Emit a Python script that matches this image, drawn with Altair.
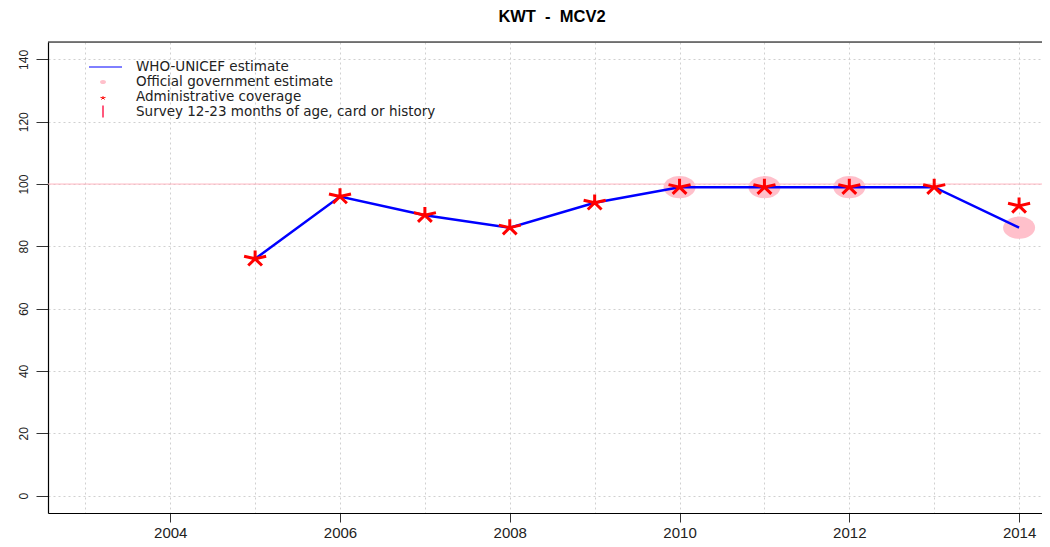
import altair as alt
import pandas as pd

# ---- data ----
years = [2005, 2006, 2007, 2008, 2009, 2010, 2011, 2012, 2013, 2014]
wuenic = [76, 96, 90, 86, 94, 99, 99, 99, 99, 86]
admin = [76, 96, 90, 86, 94, 99, 99, 99, 99, 93]
official_years = [2010, 2011, 2012, 2014]
official = [99, 99, 99, 86]
target_line = [100]
x_grid = list(range(2003, 2015))
y_grid = list(range(0, 141, 10))
title_text = ["KWT\u00a0\u00a0-\u00a0\u00a0MCV2"]
legend_labels = [
    "WHO-UNICEF estimate",
    "Official government estimate",
    "Administrative coverage",
    "Survey 12-23 months of age, card or history",
]

df_w = pd.DataFrame({"year": years, "value": wuenic})
df_a = pd.DataFrame({"year": years, "value": admin})
df_o = pd.DataFrame({"year": official_years, "value": official})
df_t = pd.DataFrame({"value": target_line})

FONT = "Liberation Sans"
STAR = "M0,0L0,-1M0,0L1.33,-0.31M0,0L-1.33,-0.31M0,0L0.83,0.81M0,0L-0.83,0.81"
ELLIPSE = "M-1,0A1,0.69,0,1,0,1,0A1,0.69,0,1,0,-1,0Z"

W, H = 994, 471
xscale = alt.Scale(domain=[2002.56, 2014.27], nice=False, zero=False)
yscale = alt.Scale(domain=[-5.6, 145.6], nice=False, zero=False)

x_axis = alt.Axis(
    values=x_grid, title=None, domain=True, domainColor="#000000", domainWidth=1.2,
    grid=True, gridColor="#d0d0d0", gridDash=[2, 3], gridWidth=1,
    tickSize=9, tickColor="#333333",
    tickOpacity={"condition": {"test": "datum.value % 2 == 0", "value": 1}, "value": 0},
    labelExpr="datum.value % 2 == 0 ? format(datum.value, 'd') : ''",
    labelFont=FONT, labelFontSize=15, labelColor="#222222", labelPadding=3,
    labelBaseline="top",
)
y_axis = alt.Axis(
    values=y_grid, title=None, domain=True, domainColor="#000000", domainWidth=1.2,
    grid=True, gridColor="#d0d0d0", gridDash=[2, 3], gridWidth=1,
    tickSize=12, tickColor="#333333",
    tickOpacity={"condition": {"test": "datum.value % 20 == 0", "value": 1}, "value": 0},
    labelExpr="datum.value % 20 == 0 ? format(datum.value, 'd') : ''",
    labelFont=FONT, labelFontSize=12, labelColor="#222222", labelPadding=6,
    labelAngle=270, labelAlign="center", labelBaseline="bottom",
)

axes_holder = alt.Chart(df_w).mark_point(opacity=0).encode(
    x=alt.X("year:Q", scale=xscale, axis=x_axis),
    y=alt.Y("value:Q", scale=yscale, axis=y_axis),
)
ref = alt.Chart(df_t).mark_rule(color="#ffb6c1", strokeWidth=1).encode(
    y=alt.Y("value:Q", scale=yscale),
)
off = alt.Chart(df_o).mark_point(shape=ELLIPSE, filled=True, color="#ffc0cb", size=1024, opacity=1).encode(
    x=alt.X("year:Q", scale=xscale), y=alt.Y("value:Q", scale=yscale)
)
line = alt.Chart(df_w).mark_line(color="#0000ff", strokeWidth=2.5).encode(
    x=alt.X("year:Q", scale=xscale), y=alt.Y("value:Q", scale=yscale)
)
stars = alt.Chart(df_a).mark_point(shape=STAR, filled=False, color="#ff0000", size=275,
                                   strokeWidth=3, opacity=1).encode(
    x=alt.X("year:Q", scale=xscale), y=alt.Y("value:Q", scale=yscale)
)

one = pd.DataFrame({"k": [0]})
# top border of the plot frame
top_border = alt.Chart(one).mark_rule(color="#000000", strokeWidth=1.2).encode(
    x=alt.value(0), x2=alt.value(W), y=alt.value(0))

# title as text
title = alt.Chart(pd.DataFrame({"t": title_text})).mark_text(
    font=FONT, fontSize=16.5, fontWeight="bold", color="#000000", align="center", baseline="middle"
).encode(x=alt.value(504), y=alt.value(-25), text="t:N")

# ---- legend (inside the plot, like R's legend without box) ----
LFONT = "DejaVu Sans"
row_y = [25, 40, 55, 69.5]
leg = []
leg.append(alt.Chart(one).mark_rule(color="#0000ff", strokeWidth=1).encode(
    x=alt.value(41), x2=alt.value(74), y=alt.value(row_y[0])))
leg.append(alt.Chart(one).mark_point(shape=ELLIPSE, filled=True, color="#ffc0cb", size=36, opacity=1).encode(
    x=alt.value(55), y=alt.value(row_y[1])))
leg.append(alt.Chart(one).mark_point(shape=STAR, filled=False, color="#ff0000", size=14,
                                     strokeWidth=1, opacity=1).encode(
    x=alt.value(55), y=alt.value(row_y[2] + 1)))
leg.append(alt.Chart(one).mark_rule(color="#ff2050", strokeWidth=1.5).encode(
    x=alt.value(55), y=alt.value(row_y[3] - 6), y2=alt.value(row_y[3] + 6)))
for lab, yy in zip(legend_labels, row_y):
    leg.append(alt.Chart(pd.DataFrame({"label": [lab]})).mark_text(
        align="left", baseline="middle", font=LFONT, fontSize=13.5, color="#222222").encode(
        x=alt.value(88), y=alt.value(yy), text="label:N"))

chart = alt.layer(axes_holder, ref, off, line, stars, top_border, title, *leg).properties(
    width=W, height=H,
    autosize=alt.AutoSizeParams(type="none"),
    padding={"left": 40, "top": 34, "right": 0, "bottom": 26},
).configure_view(stroke=None).configure(background="white")

chart.save("out.html", embed_options={"renderer": "svg", "actions": False})
